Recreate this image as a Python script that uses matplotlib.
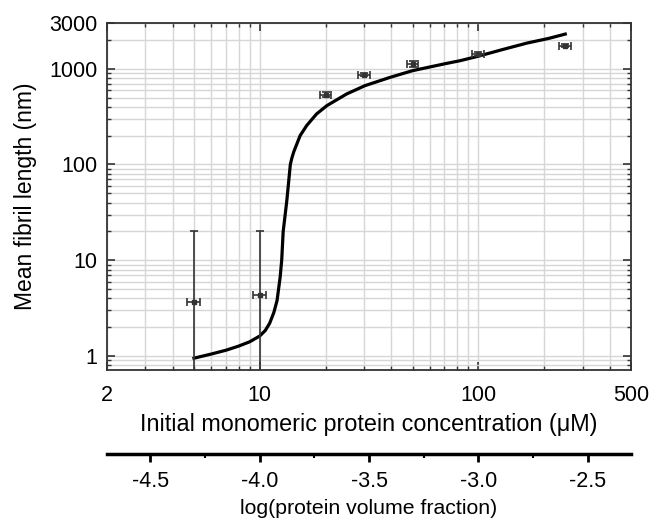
"""
Mean fibril length vs initial monomer concentration, with the
log(protein volume fraction) scale drawn underneath.
"""

import matplotlib
matplotlib.use('Agg')
import matplotlib.pyplot as plt
import numpy as np
from matplotlib.ticker import FixedLocator, NullFormatter

plt.rcParams['font.family'] = ['Liberation Sans', 'DejaVu Sans']

# Measured fibril lengths (nm) at each concentration (uM)
conc = [5, 10, 20, 30, 50, 100, 250]
length = [3.7, 4.3, 536, 866, 1120, 1420, 1740]
conc_err = [0.35, 0.7, 1.2, 1.8, 3.0, 6.0, 15.0]
length_err_low = [3.4, 4.0, 30, 35, 70, 60, 60]
length_err_high = [16.3, 15.7, 30, 35, 70, 60, 60]

# Model curve
model_conc = [5, 6, 7, 8, 9, 10, 10.6, 11.1, 11.6, 12.0, 12.4, 12.6, 12.8,
              13.05, 13.3, 13.55, 13.8, 14.0, 14.3, 14.8, 15.3, 16.4, 18.2,
              20.3, 25, 30.3, 39.5, 50, 71.7, 82.5, 100, 130, 167, 210, 250]
model_length = [0.95, 1.05, 1.15, 1.27, 1.41, 1.62, 1.85, 2.2, 2.85, 3.8, 6.7,
                10, 20, 29, 42, 65, 100, 115, 135, 165, 200, 255, 337,
                412, 545, 665, 812, 953, 1136, 1211, 1350, 1590, 1850, 2070,
                2297]

# conversion from uM to protein volume fraction
VOLFRAC_PER_UM = 1e-5

xlim = (2, 500)
ylim = (0.715, 3000)
x_major = [2, 10, 100, 500]
y_major = [1, 10, 100, 1000, 3000]
phi_major = [-4.5, -4.0, -3.5, -3.0, -2.5]


def main():
    fig = plt.figure(figsize=(6.49, 5.21), dpi=100)
    ax = fig.add_axes([0.1649, 0.2898, 0.8074, 0.6661])

    ax.set_xscale('log')
    ax.set_yscale('log')
    ax.set_xlim(*xlim)
    ax.set_ylim(*ylim)

    # grid on every minor decade step
    x_minor = [m * 10 ** d for d in range(0, 3) for m in range(2, 10)]
    x_minor = [v for v in x_minor if xlim[0] < v < xlim[1] and v not in x_major]
    y_minor = [m * 10 ** d for d in range(-1, 4) for m in range(1, 10)]
    y_minor = [v for v in y_minor if ylim[0] < v < ylim[1] and v not in y_major]

    ax.xaxis.set_major_locator(FixedLocator(x_major))
    ax.xaxis.set_minor_locator(FixedLocator(x_minor))
    ax.yaxis.set_major_locator(FixedLocator(y_major))
    ax.yaxis.set_minor_locator(FixedLocator(y_minor))
    ax.set_xticklabels([str(v) for v in x_major])
    ax.set_yticklabels([str(v) for v in y_major])
    ax.xaxis.set_minor_formatter(NullFormatter())
    ax.yaxis.set_minor_formatter(NullFormatter())

    ax.grid(True, which='both', color='#d6d6d6', linewidth=1.0, zorder=0)
    ax.set_axisbelow(True)

    ax.tick_params(which='both', direction='in', top=True, right=True,
                   color='#333333', labelsize=15.5)
    ax.tick_params(which='major', length=6, width=1.2)
    ax.tick_params(which='minor', length=3, width=1.0)
    ax.tick_params(axis='x', pad=11)
    ax.tick_params(axis='y', pad=7)
    for sp in ax.spines.values():
        sp.set_color('#333333')
        sp.set_linewidth(1.3)

    ax.plot(model_conc, model_length, color='black', linewidth=2.3,
            solid_joinstyle='round', zorder=3)

    ax.errorbar(conc, length, xerr=conc_err,
                yerr=[length_err_low, length_err_high],
                fmt='s', markersize=2.5, color='#333333', ecolor='#333333',
                elinewidth=1.2, capsize=3, capthick=1.2, zorder=4)

    ax.set_xlabel('Initial monomeric protein concentration (\u03bcM)',
                  fontsize=16.8, labelpad=5)
    ax.set_ylabel('Mean fibril length (nm)', fontsize=16.5, labelpad=9)

    # secondary scale: log of the protein volume fraction
    ax2 = fig.add_axes([0.1649, 0.1286, 0.8074, 0.0001])
    ax2.set_xlim(np.log10(xlim[0] * VOLFRAC_PER_UM),
                 np.log10(xlim[1] * VOLFRAC_PER_UM))
    ax2.set_yticks([])
    for name in ['top', 'left', 'right']:
        ax2.spines[name].set_visible(False)
    ax2.spines['bottom'].set_linewidth(2.5)
    ax2.spines['bottom'].set_color('black')
    ax2.set_xticks(phi_major)
    ax2.set_xticks([v + 0.25 for v in phi_major[:-1]], minor=True)
    ax2.set_xticklabels(['{:.1f}'.format(v) for v in phi_major])
    ax2.tick_params(which='major', direction='out', length=6, width=2,
                    labelsize=15.5, pad=6)
    ax2.tick_params(which='minor', direction='out', length=3, width=1.5)
    ax2.set_xlabel('log(protein volume fraction)', fontsize=15.3, labelpad=5)
    ax2.patch.set_visible(False)

    fig.savefig('out.png', dpi=100)


if __name__ == '__main__':
    main()
